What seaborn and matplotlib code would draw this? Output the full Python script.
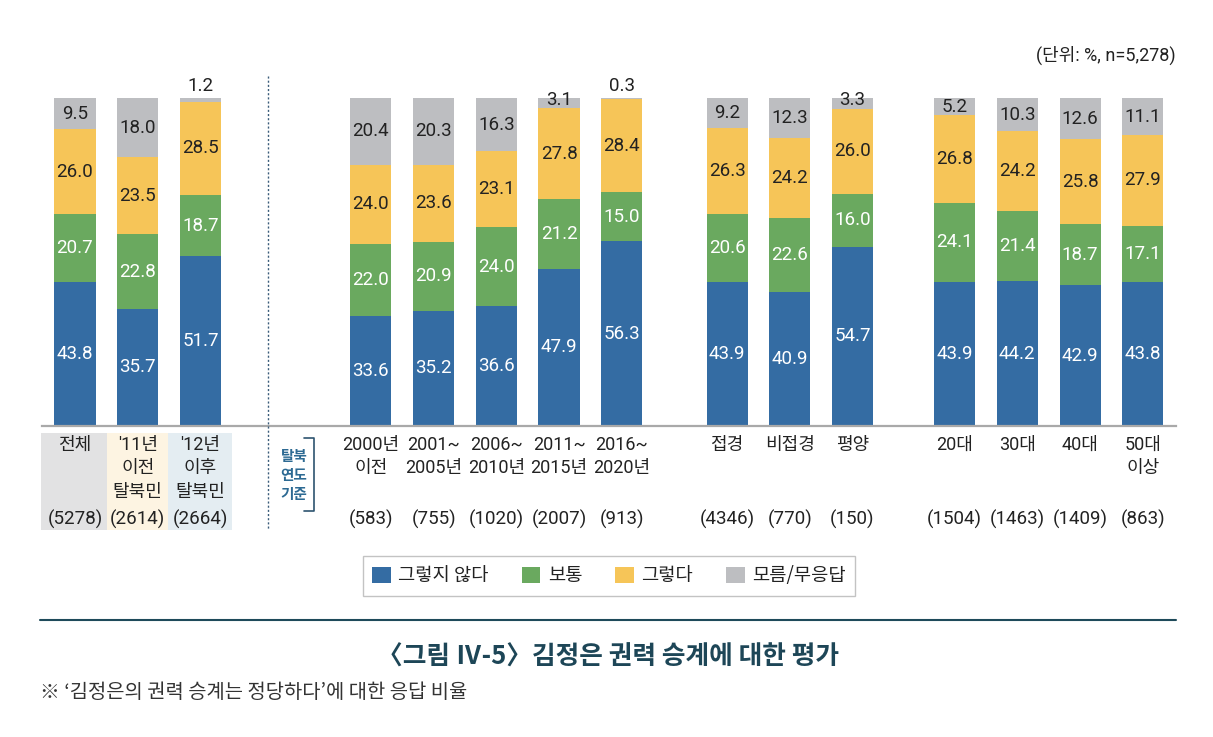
import numpy as np
import pandas as pd
import matplotlib
matplotlib.use("Agg")
import matplotlib.pyplot as plt
import seaborn as sns
from matplotlib.transforms import blended_transform_factory
from matplotlib.patches import Rectangle, Patch
from matplotlib.lines import Line2D

# ---------------- data ----------------
categories = ['전체', "'11년\n이전\n탈북민", "'12년\n이후\n탈북민",
              '2000년\n이전', '2001~\n2005년', '2006~\n2010년', '2011~\n2015년', '2016~\n2020년',
              '접경', '비접경', '평양',
              '20대', '30대', '40대', '50대\n이상']
counts = ['(5278)', '(2614)', '(2664)',
          '(583)', '(755)', '(1020)', '(2007)', '(913)',
          '(4346)', '(770)', '(150)',
          '(1504)', '(1463)', '(1409)', '(863)']
not_agree = [43.8, 35.7, 51.7, 33.6, 35.2, 36.6, 47.9, 56.3, 43.9, 40.9, 54.7, 43.9, 44.2, 42.9, 43.8]
normal = [20.7, 22.8, 18.7, 22.0, 20.9, 24.0, 21.2, 15.0, 20.6, 22.6, 16.0, 24.1, 21.4, 18.7, 17.1]
agree = [26.0, 23.5, 28.5, 24.0, 23.6, 23.1, 27.8, 28.4, 26.3, 24.2, 26.0, 26.8, 24.2, 25.8, 27.9]
dunno = [9.5, 18.0, 1.2, 20.4, 20.3, 16.3, 3.1, 0.3, 9.2, 12.3, 3.3, 5.2, 10.3, 12.6, 11.1]
series_names = ['그렇지 않다', '보통', '그렇다', '모름/무응답']

# ---------------- layout ----------------
positions = [0, 1, 2, 4.72, 5.72, 6.72, 7.72, 8.72, 10.4, 11.4, 12.4, 14.03, 15.03, 16.03, 17.03]
colors = ['#346ca3', '#6aa95f', '#f6c558', '#bdbec1']
text_colors = ['white', 'white', '#222222', '#222222']

W, H = 1213, 737
sns.set_theme(style='white')
plt.rcParams['font.family'] = ['Roboto', 'Noto Sans CJK KR', 'DejaVu Sans']
KR = ['Noto Sans CJK KR', 'DejaVu Sans']
NUM = ['Roboto', 'Noto Sans CJK KR', 'DejaVu Sans']

fig = plt.figure(figsize=(W / 100, H / 100), dpi=100)
fig.patch.set_facecolor('white')

def fy(px):
    return 1 - px / H

def fx(px):
    return px / W

ax = fig.add_axes([fx(42), fy(426), 1134 / W, 328 / H])

df = pd.DataFrame({'pos': positions, 'c1': not_agree, 'c2': normal, 'c3': agree, 'c4': dunno})
df['s1'] = df['c1']
df['s2'] = df['s1'] + df['c2']
df['s3'] = df['s2'] + df['c3']
df['s4'] = df['s3'] + df['c4']

for col, c in zip(['s4', 's3', 's2', 's1'], colors[::-1]):
    sns.barplot(data=df, x='pos', y=col, native_scale=True, orient='x', color=c,
                saturation=1, width=0.655, linewidth=0, edgecolor='none', ax=ax, errorbar=None)

ax.set_xlim(-0.526, 17.56)
ax.set_ylim(0, 100)
ax.set_xticks([])
ax.set_yticks([])
ax.set_xlabel('')
ax.set_ylabel('')
for s in ['top', 'left', 'right']:
    ax.spines[s].set_visible(False)
ax.spines['bottom'].set_color('#a9a9a9')
ax.spines['bottom'].set_linewidth(1.6)
ax.patch.set_alpha(0)

# value labels
vals = [not_agree, normal, agree, dunno]
for i, p in enumerate(positions):
    base = 0
    for k in range(4):
        v = vals[k][i]
        if k == 3 and v < 2:
            y = 103.6
        elif k == 3 and v < 4:
            y = 99.3
        else:
            y = base + v / 2
        ax.text(p, y, f'{v:.1f}', ha='center', va='center', fontsize=13.5, family=NUM,
                color=text_colors[k], clip_on=False)
        base += v

# category labels
tr = blended_transform_factory(ax.transData, fig.transFigure)
bg_boxes = [(41, 107, '#e2e2e3'), (107, 168, '#fdf4e2'), (168, 232, '#e4edf2')]
for x0, x1, c in bg_boxes:
    fig.patches.append(Rectangle((fx(x0), fy(530)), fx(x1) - fx(x0), fy(433) - fy(530),
                                 transform=fig.transFigure, facecolor=c, edgecolor='none', zorder=-5))
for p, cat, cnt in zip(positions, categories, counts):
    ax.text(p, fy(436), cat, transform=tr, ha='center', va='top', fontsize=13, family=NUM,
            color='#222222', linespacing=1.38)
    ax.text(p, fy(519), cnt, transform=tr, ha='center', va='center', fontsize=13.5, family=NUM,
            color='#222222')

# dotted divider
fig.add_artist(Line2D([fx(268), fx(268)], [fy(76), fy(530)], color='#3b5c7a',
                      lw=1.0, ls=(0, (1.5, 1.5))))

# 탈북 연도 기준 + bracket
fig.text(fx(294), fy(475), '탈북\n연도\n기준', ha='center', va='center', fontsize=10.5, family=KR,
         color='#2d6a93', fontweight='bold', linespacing=1.25)
fig.add_artist(Line2D([fx(304), fx(314), fx(314), fx(304)],
                      [fy(438), fy(438), fy(511), fy(511)], color='#2d5470', lw=1.2))

# unit label
fig.text(fx(1176), fy(55), '(단위: %, n=5,278)', ha='right', va='center', fontsize=13, family=NUM,
         color='#222222')

# legend
handles = [Patch(facecolor=c, edgecolor='none') for c in colors]
leg = fig.legend(handles, series_names, loc='center', bbox_to_anchor=(fx(609), fy(576)),
                 ncol=4, frameon=True, fancybox=False, handlelength=1.0,
                 prop={'family': KR, 'size': 13.5},
                 handleheight=1.0, handletextpad=0.4, columnspacing=1.75,
                 borderpad=0.5, borderaxespad=0)
leg.get_frame().set_edgecolor('#b5b5b5')
leg.get_frame().set_linewidth(1.0)
for t in leg.get_texts():
    t.set_color('#222222')

# separator line
fig.add_artist(Line2D([fx(40), fx(1176)], [fy(620), fy(620)], color='#1e4a5a', lw=1.5))

# title and note
fig.text(fx(608), fy(657), '〈그림 Ⅳ-5〉김정은 권력 승계에 대한 평가', ha='center', va='center',
         fontsize=18.5, fontweight='bold', family=KR, color='#1d4657')
fig.text(fx(40), fy(692), "※ ‘김정은의 권력 승계는 정당하다’에 대한 응답 비율", ha='left', va='center',
         fontsize=14.3, family=KR, color='#333333')

fig.savefig('out.png', dpi=100, facecolor='white')
